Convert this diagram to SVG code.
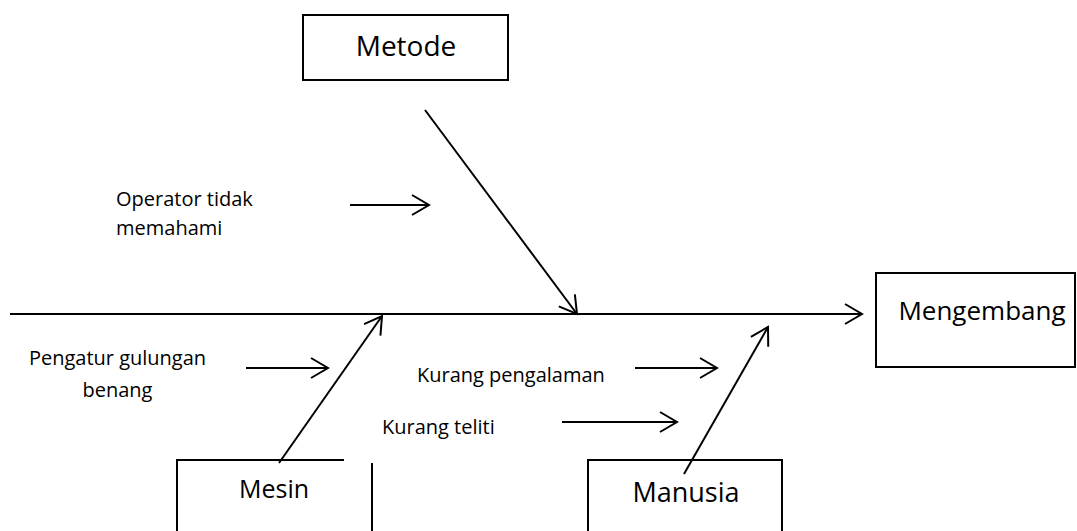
<svg xmlns="http://www.w3.org/2000/svg" width="1077" height="531" viewBox="0 0 1077 531">
<style>
.box{fill:#fff;stroke:#000;stroke-width:2}
.ln{fill:none;stroke:#000;stroke-width:2}
.t{font-family:"Open Sans","Noto Sans",sans-serif;fill:#000}
.s{font-size:20px}
</style>
<defs>
<marker id="ah" markerUnits="userSpaceOnUse" markerWidth="40" markerHeight="40" viewBox="-20 -20 40 40" refX="0" refY="0" orient="auto">
<path d="M-17,-10 L0,0 L-17,10" fill="none" stroke="#000" stroke-width="2"/>
</marker>
</defs>
<rect width="1077" height="531" fill="#fff"/>
<g id="metode">
<rect class="box" x="303" y="15" width="205" height="65"/>
<text class="t" x="406" y="56" font-size="28" text-anchor="middle">Metode</text>
</g>
<g id="mengembang">
<rect class="box" x="876" y="273" width="199" height="94"/>
<text class="t" x="982" y="320" font-size="26" text-anchor="middle">Mengembang</text>
</g>
<g id="mesin">
<path class="ln" d="M177,531 V460 H344 M372,463 V531"/>
<text class="t" x="274" y="498" font-size="25" text-anchor="middle">Mesin</text>
</g>
<g id="manusia">
<path class="ln" d="M588,531 V460 H782 V531"/>
<text class="t" x="686" y="502" font-size="27" text-anchor="middle">Manusia</text>
</g>
<g id="labels">
<text class="t s" x="116" y="206">Operator tidak</text>
<text class="t s" x="116" y="235">memahami</text>
<text class="t s" x="117.5" y="365" text-anchor="middle">Pengatur gulungan</text>
<text class="t s" x="117.5" y="397" text-anchor="middle">benang</text>
<text class="t s" x="417" y="382">Kurang pengalaman</text>
<text class="t s" x="382" y="434">Kurang teliti</text>
</g>
<g id="connectors">
<line class="ln" x1="10" y1="314" x2="862" y2="314" marker-end="url(#ah)"/>
<line class="ln" x1="425" y1="110" x2="577" y2="314" marker-end="url(#ah)"/>
<line class="ln" x1="279" y1="463" x2="382" y2="316" marker-end="url(#ah)"/>
<line class="ln" x1="684" y1="474" x2="768" y2="327" marker-end="url(#ah)"/>
<line class="ln" x1="350" y1="205" x2="429" y2="205" marker-end="url(#ah)"/>
<line class="ln" x1="246" y1="368" x2="328" y2="368" marker-end="url(#ah)"/>
<line class="ln" x1="635" y1="368" x2="717" y2="368" marker-end="url(#ah)"/>
<line class="ln" x1="562" y1="422" x2="677" y2="422" marker-end="url(#ah)"/>
</g>
</svg>
